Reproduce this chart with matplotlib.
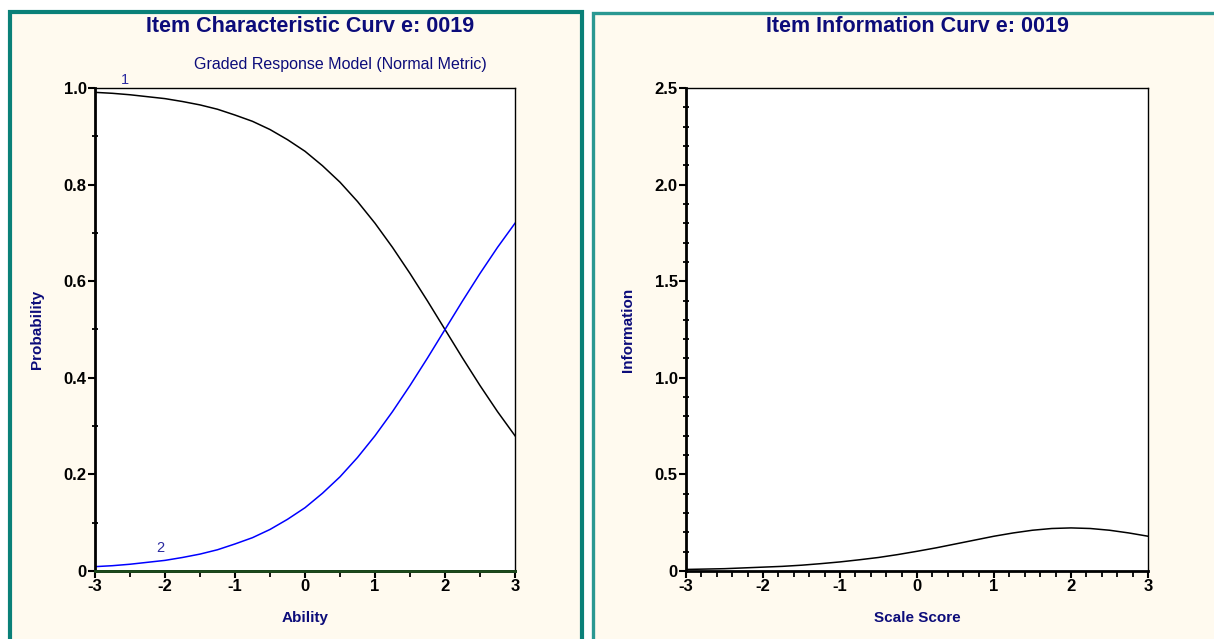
import numpy as np
import matplotlib
matplotlib.use("Agg")
import matplotlib.pyplot as plt
from matplotlib.patches import Rectangle
from matplotlib.ticker import MultipleLocator, FixedLocator

plt.rcParams['font.family'] = ['Liberation Sans', 'DejaVu Sans']

# ability grid and curve values (item 0019)
theta = [-3.0, -2.75, -2.5, -2.25, -2.0, -1.75, -1.5, -1.25, -1.0, -0.75, -0.5, -0.25,
         0.0, 0.25, 0.5, 0.75, 1.0, 1.25, 1.5, 1.75, 2.0, 2.25, 2.5, 2.75, 3.0]
p_cat1 = [0.991, 0.989, 0.986, 0.982, 0.978, 0.972, 0.965, 0.956, 0.944, 0.931, 0.914, 0.893,
          0.869, 0.839, 0.805, 0.765, 0.720, 0.670, 0.616, 0.559, 0.500, 0.441, 0.384, 0.330, 0.280]
p_cat2 = [0.009, 0.011, 0.014, 0.018, 0.022, 0.028, 0.035, 0.044, 0.056, 0.069, 0.086, 0.107,
          0.131, 0.161, 0.195, 0.235, 0.280, 0.330, 0.384, 0.441, 0.500, 0.559, 0.616, 0.670, 0.720]
p_cat0 = [0.0] * len(theta)
info = [0.008, 0.010, 0.012, 0.016, 0.020, 0.024, 0.030, 0.038, 0.047, 0.058, 0.070, 0.085,
        0.102, 0.120, 0.140, 0.160, 0.180, 0.197, 0.211, 0.220, 0.223, 0.220, 0.211, 0.197, 0.180]

x_ticks = [-3, -2, -1, 0, 1, 2, 3]
icc_yticks = [0, 0.2, 0.4, 0.6, 0.8, 1.0]
icc_ylabels = ['0', '0.2', '0.4', '0.6', '0.8', '1.0']
iic_yticks = [0, 0.5, 1.0, 1.5, 2.0, 2.5]
iic_ylabels = ['0', '0.5', '1.0', '1.5', '2.0', '2.5']

navy = '#0c0c7a'
teal = '#0a8078'
cream = '#fffaef'

W, H = 1214, 639
fig = plt.figure(figsize=(W / 100, H / 100), dpi=100)
fig.patch.set_facecolor('white')

def px(x0, y0, w, h):
    return (x0 / W, 1 - (y0 + h) / H, w / W, h / H)

# panel frames, kept behind the axes
x0, y0, w, h = px(10, 12, 572, 640)
fig.patches.append(Rectangle((x0, y0), w, h, transform=fig.transFigure,
                             facecolor=cream, edgecolor=teal, linewidth=3.0, zorder=-5))
x0, y0, w, h = px(593, 13, 640, 640)
fig.patches.append(Rectangle((x0, y0), w, h, transform=fig.transFigure,
                             facecolor=cream, edgecolor='#2a9892', linewidth=2.4, zorder=-5))

ax1 = fig.add_axes(px(95, 88, 420, 483))
ax2 = fig.add_axes(px(686, 88, 462, 483))

tick_font = dict(fontsize=12, fontweight='bold')
label_font = dict(color=navy, fontsize=11, fontweight='bold')

# item characteristic curve
ax1.plot(theta, p_cat0, color='#1c4a1c', lw=2.0, clip_on=False, zorder=4)
ax1.plot(theta, p_cat1, color='black', lw=1.1)
ax1.plot(theta, p_cat2, color='#0000ff', lw=1.1)
ax1.text(-2.57, 1.003, '1', color='#2a2aa0', fontsize=10.5, ha='center', va='bottom', clip_on=False)
ax1.text(-2.07, 0.034, '2', color='#2a2aa0', fontsize=10.5, ha='center', va='bottom')
ax1.set_xlim(-3, 3)
ax1.set_ylim(0, 1.0)
ax1.yaxis.set_major_locator(FixedLocator(icc_yticks))
ax1.set_yticklabels(icc_ylabels, **tick_font)
ax1.yaxis.set_minor_locator(MultipleLocator(0.1))
ax1.xaxis.set_major_locator(FixedLocator(x_ticks))
ax1.set_xticklabels([str(t) for t in x_ticks], **tick_font)
ax1.xaxis.set_minor_locator(MultipleLocator(0.5))
ax1.set_xlabel('Ability', labelpad=12, **label_font)
ax1.set_ylabel('Probability', labelpad=14, **label_font)
ax1.set_title('Graded Response Model (Normal Metric)', color=navy, fontsize=11.5,
              x=0.585, pad=14)
fig.text(310 / W, 1 - 27 / H, 'Item Characteristic Curv e: 0019', color=navy,
         fontsize=15.5, fontweight='bold', ha='center', va='center')

# item information curve
ax2.plot(theta, info, color='black', lw=1.1)
ax2.set_xlim(-3, 3)
ax2.set_ylim(0, 2.5)
ax2.yaxis.set_major_locator(FixedLocator(iic_yticks))
ax2.set_yticklabels(iic_ylabels, **tick_font)
ax2.yaxis.set_minor_locator(MultipleLocator(0.1))
ax2.xaxis.set_major_locator(FixedLocator(x_ticks))
ax2.set_xticklabels([str(t) for t in x_ticks], **tick_font)
ax2.xaxis.set_minor_locator(MultipleLocator(0.2))
ax2.set_xlabel('Scale Score', labelpad=12, **label_font)
ax2.set_ylabel('Information', labelpad=14, **label_font)
fig.text(917 / W, 1 - 27 / H, 'Item Information Curv e: 0019', color=navy,
         fontsize=15.5, fontweight='bold', ha='center', va='center')

for ax in (ax1, ax2):
    ax.set_facecolor('white')
    for side in ('top', 'right'):
        ax.spines[side].set_linewidth(1.0)
    ax.spines['left'].set_linewidth(2.0)
    ax.spines['bottom'].set_linewidth(2.0)
    ax.tick_params(which='major', direction='out', length=5, width=1.5, pad=1, colors='black')
    ax.tick_params(axis='y', which='minor', direction='inout', length=5, width=1.3)
    ax.tick_params(axis='x', which='minor', direction='out', length=4, width=1.3)

plt.savefig('out.png', dpi=100, facecolor=fig.get_facecolor())
